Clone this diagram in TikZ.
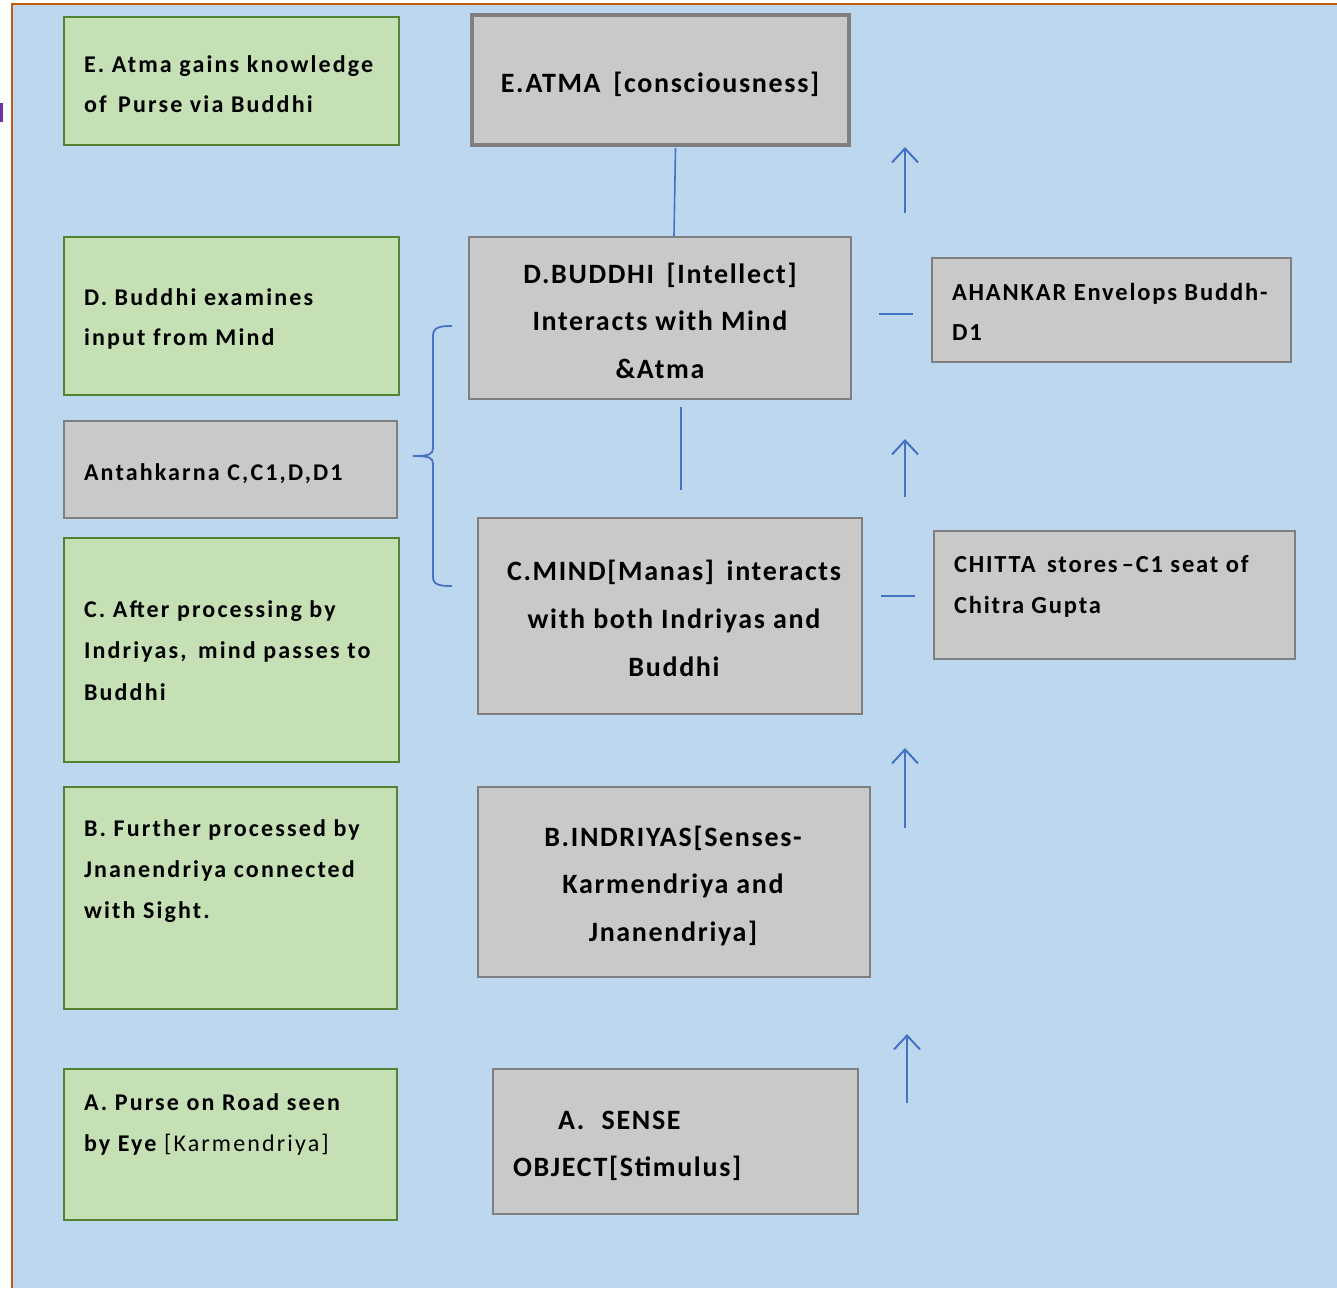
\documentclass[tikz,border=0pt]{standalone}
\usepackage{fontspec}
\setmainfont{Carlito}
\newfontfamily\leftfont[LetterSpace=9]{Carlito}
\newfontfamily\mainfont[LetterSpace=6]{Carlito}
\newfontfamily\rightfont[LetterSpace=7.5]{Carlito}
\usetikzlibrary{arrows.meta}
\definecolor{bgblue}{HTML}{BDD7EE}
\definecolor{bgedge}{HTML}{C55A11}
\definecolor{grfill}{HTML}{C5E0B4}
\definecolor{grdraw}{HTML}{548235}
\definecolor{gyfill}{HTML}{C9C9C9}
\definecolor{gydraw}{HTML}{7F7F7F}
\definecolor{lnblue}{HTML}{4472C4}
\definecolor{purp}{HTML}{7030A0}
\newcommand\lftxt[3]{\fontsize{#1}{#2}\selectfont\bfseries\begin{tabular}[t]{@{}l@{}}#3\end{tabular}}
\newcommand\ctrtxt[3]{\fontsize{#1}{#2}\selectfont\bfseries\begin{tabular}[t]{@{}c@{}}#3\end{tabular}}
\newcommand\boxat[6]{\node[#6, anchor=north west, minimum width={#4-#2}, minimum height={#5-#3}] (#1) at (#2,#3) {};}
\begin{document}
\begin{tikzpicture}[x=1pt,y=-1pt,
  greenbox/.style={draw=grdraw, fill=grfill, line width=2pt, inner sep=0pt, outer sep=0pt, rectangle},
  graybox/.style={draw=gydraw, fill=gyfill, line width=2pt, inner sep=0pt, outer sep=0pt, rectangle},
  txt/.style={inner sep=0pt, outer sep=0pt, text=black},
  ltxt/.style={txt, font=\leftfont},
  mtxt/.style={txt, font=\mainfont},
  rtxt/.style={txt, font=\rightfont},
  conn/.style={draw=lnblue, line width=1.6pt},
  uparrow/.style={draw=lnblue, line width=2pt, -{Straight Barb[length=14pt,width=26pt,line width=2pt]}}]
\useasboundingbox (0,0) rectangle (1337,1288);
\fill[bgblue] (12,4) rectangle (1337,1288);
\draw[bgedge, line width=2pt] (12,1288) -- (12,4) -- (1337,4);
\fill[purp] (0,103) rectangle (2.5,122);

% left column
\boxat{gE}{64}{17}{399}{145}{greenbox}
\node[ltxt, anchor=base west] (tgE) at (84,72) {\lftxt{24}{40}{E. Atma gains knowledge\\of\, Purse via Buddhi}};
\boxat{gD}{64}{237}{399}{395}{greenbox}
\node[ltxt, anchor=base west] (tgD) at (84,305) {\lftxt{24}{40}{D. Buddhi examines\\input from Mind}};
\boxat{gAnt}{64}{421}{397}{518}{graybox}
\node[ltxt, anchor=base west] (tgAnt) at (84,480) {\lftxt{24}{40}{Antahkarna C,C1,D,D1}};
\boxat{gC}{64}{538}{399}{762}{greenbox}
\node[ltxt, anchor=base west] (tgC) at (84,617) {\lftxt{24}{41.5}{C. After processing by\\Indriyas,\, mind passes to\\Buddhi}};
\boxat{gB}{64}{787}{397}{1009}{greenbox}
\node[ltxt, anchor=base west] (tgB) at (84,836) {\lftxt{24}{41}{B. Further processed by\\Jnanendriya connected\\with Sight.}};
\boxat{gA}{64}{1069}{397}{1220}{greenbox}
\node[ltxt, anchor=base west] (tgA) at (84,1110) {\lftxt{24}{41}{A. Purse on Road seen\\by Eye {\mdseries [Karmendriya]}}};

% middle column
\boxat{mE}{472}{15}{849}{145}{graybox, line width=4pt}
\node[mtxt, anchor=base] (tmE) at (660,92) {\ctrtxt{28}{48}{E.ATMA\, [consciousness]}};
\boxat{mD}{469}{237}{851}{399}{graybox}
\node[mtxt, anchor=base] (tmD) at (660,283) {\ctrtxt{28}{47.5}{D.BUDDHI\, [Intellect]\\Interacts with Mind\\\&Atma}};
\boxat{mC}{478}{518}{862}{714}{graybox}
\node[mtxt, anchor=base] (tmC) at (674,580) {\ctrtxt{28}{48}{C.MIND[Manas]\, interacts\\with both Indriyas and\\Buddhi}};
\boxat{mB}{478}{787}{870}{977}{graybox}
\node[mtxt, anchor=base] (tmB) at (673,846) {\ctrtxt{28}{47.5}{B.INDRIYAS[Senses-\\Karmendriya and\\Jnanendriya]}};
\boxat{mA}{493}{1069}{858}{1214}{graybox}
\node[mtxt, anchor=base west] (tmA1) at (558,1129) {\fontsize{28}{48}\selectfont\bfseries A.\,\, SENSE};
\node[mtxt, anchor=base west] (tmA2) at (513,1176) {\fontsize{28}{48}\selectfont\bfseries OBJECT[Stimulus]};

% right column
\boxat{rAh}{932}{258}{1291}{362}{graybox}
\node[rtxt, anchor=base west] (trAh) at (952,300) {\lftxt{24.5}{40}{AHANKAR Envelops Buddh-\\D1}};
\boxat{rCh}{934}{531}{1295}{659}{graybox}
\node[rtxt, anchor=base west] (trCh) at (954,572) {\lftxt{24.5}{41}{CHITTA\, stores\,–C1 seat of\\Chitra Gupta}};

% connectors
\draw[conn] ([xshift=15pt,yshift=-3pt]mE.south) -- ([xshift=14pt,yshift=1pt]mD.north);
\draw[conn] ([xshift=21pt,yshift=-8pt]mD.south) -- ([xshift=11pt,yshift=28pt]mC.north);
\draw[conn] ([xshift=28pt,yshift=4pt]mD.east) -- ([xshift=-19pt,yshift=4pt]mD.east -| rAh.west);
\draw[conn] ([xshift=19pt,yshift=20pt]mC.east) -- ([xshift=-19pt,yshift=20pt]mC.east -| rCh.west);

% brace
\draw[conn, line width=1.8pt] (452,326) .. controls (440,326) and (433,327) .. (433,336)
  -- (433,448) .. controls (433,454) and (430,456) .. (413,456)
  .. controls (430,456) and (433,458) .. (433,464)
  -- (433,577) .. controls (433,585) and (440,586) .. (452,586);

% arrows
\coordinate (a1s) at (905,213); \coordinate (a1e) at (905,147);
\coordinate (a2s) at (905,497); \coordinate (a2e) at (905,439);
\coordinate (a3s) at (905,828); \coordinate (a3e) at (905,748);
\coordinate (a4s) at (907,1103); \coordinate (a4e) at (907,1034);
\draw[uparrow] (a1s) -- (a1e);
\draw[uparrow] (a2s) -- (a2e);
\draw[uparrow] (a3s) -- (a3e);
\draw[uparrow] (a4s) -- (a4e);
\end{tikzpicture}
\end{document}
